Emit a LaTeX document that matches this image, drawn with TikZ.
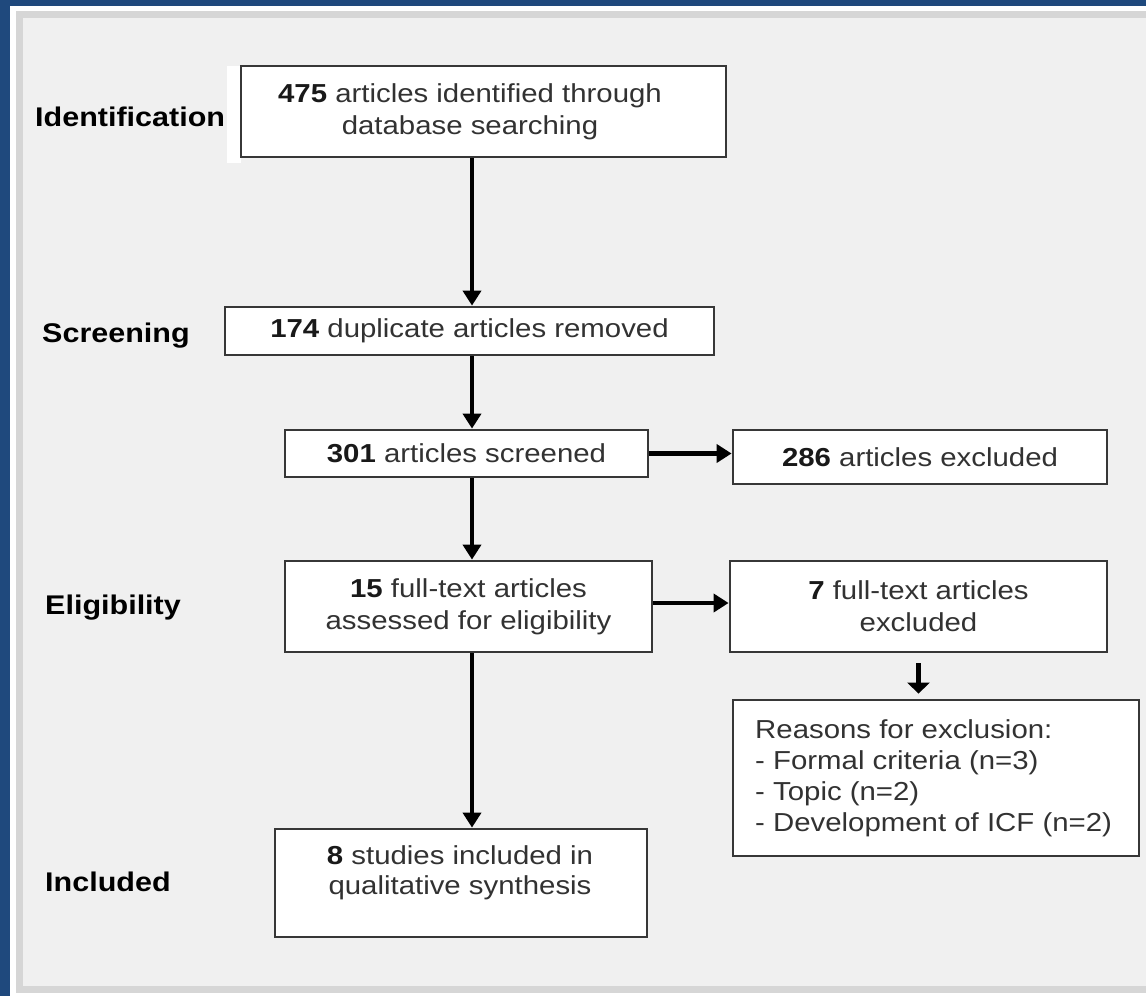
\documentclass[tikz,border=0pt]{standalone}
\usepackage{fontspec}
\setmainfont{Liberation Sans}[FakeStretch=1.13]
\usetikzlibrary{arrows.meta}
\definecolor{frameblue}{RGB}{31,73,125}
\definecolor{panelgray}{RGB}{240,240,240}
\definecolor{bordergray}{RGB}{214,214,214}
\definecolor{boxline}{RGB}{55,55,55}
\definecolor{txtgray}{RGB}{50,50,50}
\definecolor{numblack}{RGB}{25,25,25}
\tikzset{
  box/.style={draw=boxline, line width=2.8pt, fill=white, inner sep=0pt},
  txt/.style={text=txtgray, align=center, inner sep=0pt, font=\fontsize{26}{32}\selectfont},
  stage/.style={anchor=base west, inner sep=0pt, font=\fontsize{27}{32}\selectfont\bfseries, text=black},
  flow/.style={line width=4.5pt, -{Triangle[width=18pt,length=15pt]}},
  shortflow/.style={line width=4.5pt, -{Triangle[width=22pt,length=11pt]}},
}
\newcommand{\num}[1]{\textbf{\color{numblack}#1}}
\begin{document}
\begin{tikzpicture}[x=1pt,y=-1pt]
\useasboundingbox (0,0) rectangle (1146,996);
% frame and panel
\fill[frameblue] (0,0) rectangle (1146,996);
\fill[white] (10,6) rectangle (1146,996);
\draw[bordergray, line width=7pt, fill=panelgray] (19,14.5) rectangle (1170,989.5);
\fill[white] (227,66) rectangle (241,163);

% stage labels
\node[stage] (sId) at (35,126) {Identification};
\node[stage] (sScr) at (42,342) {Screening};
\node[stage] (sElig) at (45,614.5) {Eligibility};
\node[stage] (sInc) at (45,891.5) {Included};

% boxes
\node[box, minimum width=485pt, minimum height=91pt] (b1) at (483.5,111.5) {};
\node[txt] (t1) at (470,111.5) {\num{475} articles identified through\\database searching};

\node[box, txt, minimum width=489pt, minimum height=48pt] (b2) at (469.5,331) {\num{174} duplicate articles removed};

\node[box, txt, minimum width=363pt, minimum height=47pt] (b3) at (466.5,453.5) {\num{301} articles screened};

\node[box, txt, minimum width=374pt, minimum height=54pt] (b4) at (920,457) {\num{286} articles excluded};

\node[box, txt, minimum width=367pt, minimum height=91pt] (b5) at (468.5,606.5) {\num{15} full-text articles\\assessed for eligibility};

\node[box, txt, minimum width=377pt, minimum height=91pt] (b6) at (918.5,606.5) {\num{7} full-text articles\\excluded};

\node[box, minimum width=406pt, minimum height=156pt] (b7) at (936,778) {};
\node[txt, align=left, anchor=west, font=\fontsize{26}{31}\selectfont] (t7) at (755,778) {Reasons for exclusion:\\- Formal criteria (n=3)\\- Topic (n=2)\\- Development of ICF (n=2)};

\node[box, minimum width=372pt, minimum height=108pt] (b8) at (461,883) {};
\node[txt, font=\fontsize{26}{30}\selectfont] (t8) at (460,873) {\num{8} studies included in\\qualitative synthesis};

% connectors
\coordinate (col) at (472,0);
\draw[flow] (b1.south -| col) -- (b2.north -| col);
\draw[flow] (b2.south -| col) -- (b3.north -| col);
\draw[flow] (b3.south -| col) -- (b5.north -| col);
\draw[flow] (b5.south -| col) -- (b8.north -| col);
\draw[flow] (b3.east) -- (b3.east -| b4.west);
\draw[flow] ([yshift=3.5pt]b5.east) -- ([yshift=3.5pt]b6.west);
\draw[shortflow] ([yshift=-10pt]b6.south) -- ([yshift=5pt]b6.south |- b7.north);
\end{tikzpicture}
\end{document}
